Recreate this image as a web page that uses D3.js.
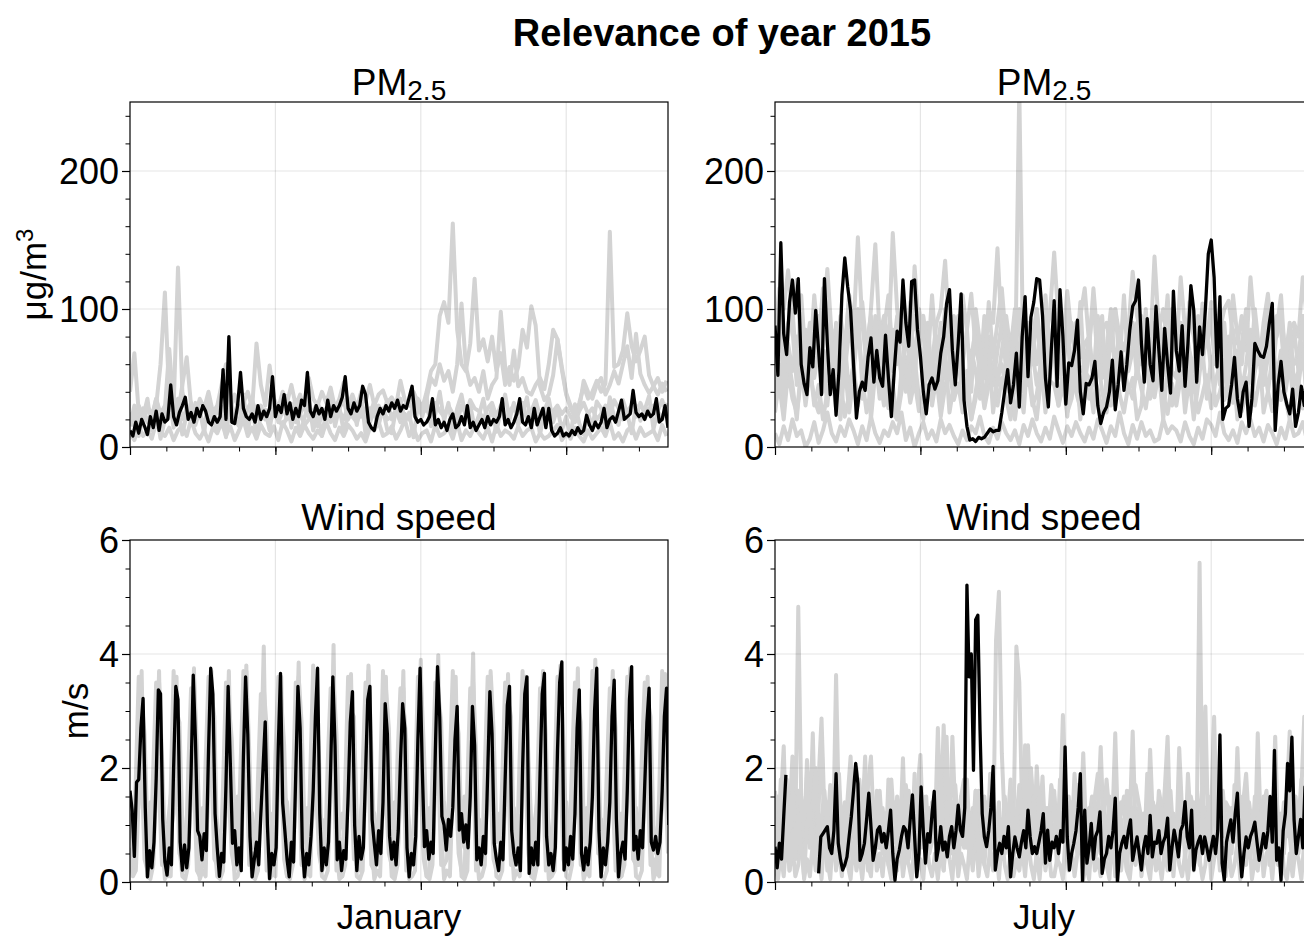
<!DOCTYPE html>
<html lang="en">
<head>
<meta charset="utf-8">
<title>Relevance of year 2015</title>
<script src="https://d3js.org/d3.v7.min.js"></script>
<style>
  body { margin: 0; background: #fff; }
  svg text { font-family: 'Liberation Sans', Arial, Helvetica, sans-serif; fill: #000; }
</style>
</head>
<body>
<script>
// Hourly axis: one month = 744 hours. Series are read off the picture
// and stored at a fixed sampling step (hours) given in the comment.

// PM2.5 January, year 2015 (black), every 4 h
const pmJanBlack = [
  12, 8, 18, 10, 20, 15,
  9, 22, 14, 26, 12, 24,
  18, 20, 45, 22, 16, 25,
  30, 36, 20, 25, 18, 28,
  22, 30, 26, 18, 16, 22,
  18, 22, 56, 20, 80, 18,
  17, 30, 54, 28, 22, 20,
  24, 18, 30, 20, 26, 22,
  28, 51, 22, 30, 25, 38,
  24, 32, 20, 28, 22, 34,
  30, 54, 26, 22, 30, 24,
  28, 20, 34, 22, 30, 26,
  30, 36, 51, 28, 24, 32,
  26, 30, 44, 38, 18, 14,
  12, 22, 28, 24, 30, 26,
  32, 28, 34, 26, 30, 28,
  36, 44, 22, 18, 20, 16,
  18, 22, 35, 16, 20, 14,
  18, 12, 20, 24, 14, 16,
  22, 16, 30, 14, 18, 12,
  16, 20, 14, 22, 16, 20,
  18, 22, 35, 16, 20, 14,
  18, 24, 35, 18, 16, 22,
  14, 28, 16, 22, 28, 14,
  28, 12, 8, 10, 14, 8,
  10, 8, 12, 9, 14, 10,
  12, 23, 16, 12, 18, 14,
  18, 28, 14, 20, 22, 18,
  26, 34, 20, 22, 24, 41,
  25, 22, 24, 20, 26, 22,
  24, 35, 18, 20, 30, 14
];
// PM2.5 January, other years (grey), every 6 h
const pmJanGray1 = [
  20,15,22,28, 18,25,30,60, 112,35,28,130, 40,25,20,30, 22,18,26,20,
  15,22,18,25, 20,15,24,18, 25,20,30,22, 18,24,20,15, 22,28,18,24,
  16,20,26,15, 22,28,18,24, 26,20,30,22, 18,26,22,28, 24,16,28,20,
  22,26,18,24, 20,30,35,28, 40,55,60,95, 105,90,162,85, 60,55,75,122,
  70,78,62,80, 55,68,45,58, 48,58,85,72, 102,88,44,34, 38,52,78,56,
  38,28,22,32, 44,35,40,48, 40,46,156,58, 60,70,97,73, 62,70,80,52,
  44,38,46,40
];
const pmJanGray2 = [
  40,68,25,18, 30,22,35,20, 28,71,30,24, 45,65,30,22, 35,28,40,25,
  30,45,60,28, 38,25,32,40, 28,75,45,30, 59,35,28,40, 32,45,30,38,
  28,50,35,30, 40,32,43,28, 35,47,30,38, 28,40,33,45, 30,38,41,32,
  36,30,48,34, 30,40,32,28, 35,50,45,60, 48,55,40,60, 104,58,45,50,
  40,55,35,45, 50,98,58,45, 70,44,50,40, 38,45,50,42, 60,85,78,58,
  39,30,22,28, 48,40,35,45, 50,38,45,55, 46,60,73,50, 82,53,45,39,
  44,50,40,48
];
const pmJanGray3 = [
  10,5,15,8, 12,6,18,10, 8,14,5,12, 15,8,20,10, 6,12,4,14,
  10,18,8,15, 5,12,20,8, 14,6,16,10, 8,15,5,18, 12,4,14,8,
  16,10,6,12, 8,18,10,5, 14,8,16,12, 6,10,4,14, 12,18,8,10,
  15,6,12,20, 8,14,5,10, 12,4,16,8, 10,14,6,18, 5,12,8,15,
  10,6,14,4, 16,8,12,10, 6,15,8,12, 14,4,10,6, 8,12,16,5,
  10,6,14,8, 4,12,6,10, 14,8,18,6, 10,4,12,15, 6,14,8,10,
  12,5,16,8
];
const pmJanGray4 = [
  25,18,30,22, 28,20,35,24, 30,22,26,35, 20,28,18,32, 24,30,22,18,
  28,20,34,26, 22,30,18,28, 34,24,28,20, 26,32,22,30, 20,28,34,24,
  30,22,26,32, 24,18,30,22, 28,34,20,26, 32,22,28,18, 26,30,24,34,
  20,28,22,30, 34,26,30,24, 28,20,32,26, 22,30,24,18, 30,24,34,28,
  26,20,28,32, 22,30,18,26, 30,24,32,20, 26,34,22,28, 20,26,30,24,
  28,22,18,26, 32,24,28,20, 24,30,22,34, 28,20,26,30, 22,32,24,28,
  30,26,34,22
];
const pmJanGray5 = [
  15,30,8,22, 35,12,25,6, 20,38,14,28, 9,24,32,16, 27,10,36,20,
  13,29,7,33, 24,16,38,11, 31,8,22,27, 12,35,18,26, 37,14,28,9,
  21,33,12,25, 8,26,36,15, 29,11,23,34, 16,38,9,24, 33,19,27,12,
  10,28,35,18, 25,7,30,22, 36,15,24,40, 19,32,12,28, 38,21,30,14,
  23,35,17,29, 11,27,38,20, 32,16,25,36, 14,30,9,26, 35,18,28,12,
  22,8,31,17, 9,25,14,33, 28,12,36,21, 16,34,24,10, 30,19,27,37,
  13,26,20,32
];

// PM2.5 July, year 2015 (black), every 4 h
const pmJulBlack = [
  88, 52, 148, 82, 67, 105,
  121, 97, 122, 60, 46, 38,
  72, 58, 99, 70, 38, 122,
  75, 38, 56, 23, 55, 110,
  137, 116, 99, 60, 21, 40,
  47, 41, 65, 79, 47, 70,
  50, 44, 81, 50, 22, 55,
  84, 76, 121, 90, 73, 120,
  121, 85, 66, 40, 24, 45,
  50, 42, 48, 68, 80, 104,
  114, 70, 45, 75, 111, 34,
  15, 5, 6, 4, 7, 6,
  7, 10, 13, 11, 12, 12,
  25, 41, 56, 32, 45, 68,
  29, 80, 109, 51, 94, 105,
  122, 121, 95, 50, 29, 70,
  106, 44, 114, 80, 31, 61,
  59, 70, 92, 40, 24, 46,
  45, 50, 62, 30, 17, 25,
  29, 40, 63, 27, 45, 69,
  41, 60, 85, 102, 106, 121,
  75, 47, 93, 60, 48, 102,
  70, 41, 86, 60, 39, 113,
  70, 55, 88, 44, 75, 117,
  99, 47, 87, 67, 100, 140,
  150, 123, 58, 109, 20, 28,
  30, 45, 65, 35, 22, 40,
  47, 15, 35, 75, 70, 66,
  65, 73, 90, 104, 12, 45,
  62, 40, 31, 24, 42, 15,
  25, 44, 30, 58, 45, 50
];
// PM2.5 July, other years (grey), every 6 h
const pmJulGray1 = [
  80,115,100,128, 95,121,70,85, 60,110,75,90, 129,80,60,95, 70,110,85,152,
  90,60,100,147, 80,95,70,155, 100,75,90,60, 131,85,95,70, 60,90,100,135,
  80,70,95,60, 85,111,70,60, 75,100,90,144, 80,95,70,100, 85,60,90,75,
  100,70,80,95, 141,90,75,113, 80,70,95,115, 75,106,60,85, 90,70,100,80,
  70,85,127,95, 80,95,70,138, 85,100,75,90, 70,123,85,95, 80,60,104,75,
  90,70,85,100, 106,80,75,95, 70,123,85,60, 90,111,75,80, 95,70,85,90,
  80,123,90,70
];
const pmJulGray2 = [
  40,60,35,75, 55,80,45,65, 90,50,70,40, 65,85,55,45, 75,40,60,90,
  50,70,45,80, 60,35,75,55, 85,50,65,40, 70,90,45,60, 55,75,40,85,
  65,45,80,50, 40,70,55,35, 60,80,45,70, 90,55,75,40, 65,85,50,70,
  45,60,90,55, 75,50,65,85, 40,70,55,60, 80,45,75,50, 65,90,55,70,
  45,60,85,50, 75,55,70,90, 60,80,45,65, 85,50,75,55, 40,70,60,85,
  55,75,45,65, 80,50,70,40, 60,85,55,75, 45,65,80,50, 70,40,60,85,
  55,75,50,65
];
const pmJulGray3 = [
  10,2,15,5, 20,8,12,0, 6,18,3,12, 25,10,4,15, 8,20,12,2,
  15,5,22,10, 3,12,8,18, 10,25,5,14, 0,10,18,6, 12,4,20,10,
  16,8,2,12, 5,15,10,22, 8,3,14,6, 18,10,5,12, 2,16,8,20,
  10,4,14,6, 22,12,3,15, 8,18,10,4, 14,6,20,12, 3,15,8,25,
  10,2,16,6, 18,8,12,4, 6,20,10,15, 12,4,18,8, 2,14,6,20,
  16,8,25,10, 5,12,3,18, 10,20,8,14, 4,16,10,2, 14,6,20,8,
  10,18,4,12
];
const pmJulGray4 = [
  30,45,20,55, 35,25,50,40, 60,30,45,20, 40,55,28,48, 22,38,60,30,
  50,25,42,65, 35,55,28,45, 20,40,58,32, 48,26,38,62, 30,50,22,44,
  56,34,46,25, 40,20,35,52, 28,45,60,30, 50,35,20,45, 260,40,55,30,
  38,60,25,48, 45,30,55,22, 60,40,28,50, 35,52,42,25, 48,30,62,38,
  25,45,35,58, 42,28,50,36, 55,38,24,46, 30,50,40,62, 45,25,38,52,
  28,48,60,34, 50,32,44,26, 38,56,30,48, 62,40,26,52, 34,46,58,30,
  48,28,40,55
];
const pmJulGray5 = [
  60,95,45,80, 100,55,75,40, 85,65,95,50, 70,40,90,60, 55,85,70,100,
  45,75,95,60, 90,50,65,85, 60,100,45,75, 95,70,55,90, 50,80,65,100,
  75,45,90,60, 40,65,85,50, 95,60,75,45, 70,90,55,80, 100,65,45,85,
  60,80,95,50, 85,55,70,100, 45,90,65,75, 80,50,95,60, 70,100,55,85,
  50,75,90,65, 95,60,80,45, 65,85,55,100, 75,45,90,70, 55,95,65,80,
  90,60,100,50, 70,85,45,75, 100,55,80,65, 60,90,70,95, 85,50,75,60,
  65,95,55,80
];
const pmJulGray6 = [
  25,50,35,65, 45,20,60,30, 55,35,25,70, 30,65,45,20, 60,25,50,40,
  35,70,20,55, 50,30,65,25, 20,55,40,60, 65,35,20,45, 40,60,30,70,
  25,45,65,35, 55,20,40,60, 30,70,25,50, 60,40,55,20, 45,25,70,35,
  20,50,35,65, 70,30,45,25, 35,60,20,55, 50,25,65,40, 25,55,30,70,
  60,40,50,20, 30,70,35,45, 55,20,60,30, 40,65,25,50, 20,45,70,35,
  65,30,40,55, 35,60,20,45, 50,25,55,70, 25,40,65,30, 60,35,20,50,
  45,70,30,60
];
const pmJulGray7 = [
  70,105,50,90, 85,45,110,65, 50,95,75,115, 100,60,80,45, 65,110,55,85,
  105,70,40,95, 55,85,110,65, 95,50,75,105, 45,100,80,60, 110,65,90,50,
  60,95,70,110, 85,40,100,75, 50,105,65,90, 115,75,45,95, 55,90,80,60,
  100,50,110,70, 65,95,55,85, 90,60,105,45, 70,115,75,95, 40,85,100,60,
  110,55,70,90, 60,100,45,80, 95,70,110,55, 50,90,65,105, 85,45,95,75,
  105,65,55,90, 45,110,80,60, 95,55,100,70, 75,105,50,85, 110,60,90,45,
  55,95,70,100
];

// Wind speed January, year 2015 (black), every 3 h
const windJanBlack = [
  1.6, 1.25, 0.45, 1.75, 1.8, 2.7, 3.22, 1.3,
  0.09, 0.55, 0.25, 0.7, 1.8, 3.37, 3.3, 1.1,
  0.35, 0.12, 0.6, 0.3, 2.0, 3.43, 3.2, 0.7,
  0.21, 0.65, 0.25, 0.6, 1.9, 3.63, 2.5, 0.9,
  0.8, 0.39, 0.85, 0.55, 2.3, 3.75, 3.3, 1.2,
  0.6, 0.1, 0.5, 0.35, 1.7, 3.43, 2.08, 0.68,
  0.9, 0.3, 0.6, 0.2, 2.2, 3.6, 2.6, 0.8,
  0.09, 0.4, 0.7, 0.3, 1.2, 2.0, 2.81, 1.0,
  0.06, 0.5, 0.3, 0.6, 2.4, 3.66, 1.38, 0.9,
  0.4, 0.09, 0.7, 0.35, 1.9, 3.43, 2.7, 0.6,
  0.09, 0.5, 0.3, 0.8, 1.6, 2.9, 3.75, 1.2,
  0.2, 0.6, 0.3, 0.7, 2.0, 3.6, 2.4, 0.39,
  0.7, 0.2, 0.55, 0.4, 1.5, 2.8, 3.34, 1.0,
  0.2, 0.8, 0.4, 0.6, 1.9, 3.2, 3.43, 1.1,
  0.68, 0.3, 0.9, 0.5, 1.4, 3.13, 2.6, 0.8,
  0.4, 0.7, 0.3, 0.9, 2.1, 3.13, 2.7, 0.6,
  0.09, 0.5, 0.3, 0.8, 2.5, 3.75, 2.0, 0.62,
  0.9, 0.4, 0.7, 0.5, 2.3, 3.78, 2.9, 1.15,
  1.0, 0.56, 1.1, 0.8, 1.3, 2.5, 3.08, 0.91,
  1.2, 0.7, 1.0, 0.6, 1.5, 3.08, 2.4, 0.39,
  0.6, 0.3, 0.8, 0.5, 1.9, 3.34, 2.6, 0.68,
  0.4, 0.2, 0.7, 0.39, 1.8, 3.1, 3.43, 0.9,
  0.5, 0.3, 0.6, 0.2, 2.0, 3.3, 3.6, 0.15,
  0.6, 0.3, 0.7, 0.3, 1.9, 3.3, 3.66, 0.8,
  0.3, 0.5, 0.2, 0.6, 2.3, 3.5, 3.86, 0.21,
  0.6, 0.3, 0.8, 0.4, 1.2, 2.7, 3.37, 0.5,
  0.21, 0.6, 0.3, 0.7, 1.5, 3.0, 3.75, 0.9,
  0.09, 0.6, 0.3, 0.7, 1.4, 2.9, 3.54, 1.1,
  0.09, 0.5, 0.7, 0.4, 1.6, 3.2, 3.78, 0.56,
  0.8, 0.4, 0.9, 0.6, 1.7, 2.8, 3.4, 0.7,
  0.56, 0.8, 0.5, 0.7, 1.6, 2.9, 3.4, 1.0
];
// Wind speed January, other years (grey), every 4 h
const windJanGray1 = [
  0.4,0.1,0.2,1.5,3.7,1.0, 0.1,0.05,0.3,1.8,3.7,0.8, 0.05,0.2,0.1,2.0,3.6,0.6,
  0.1,0.05,0.3,1.7,3.75,0.9, 0.05,0.2,0.1,2.1,3.7,0.7, 0.1,0.05,0.2,1.9,3.7,1.0,
  0.05,0.1,0.3,1.6,3.8,0.8, 0.1,0.05,0.2,2.0,4.13,0.9, 0.05,0.15,0.1,1.8,3.6,0.7,
  0.1,0.05,0.3,1.9,3.85,1.0, 0.05,0.2,0.1,2.2,3.7,0.8, 0.1,0.05,0.2,1.7,4.16,0.6,
  0.05,0.1,0.3,1.9,3.65,0.9, 0.1,0.05,0.2,2.0,3.7,0.7, 0.05,0.2,0.1,1.8,3.6,1.0,
  0.1,0.05,0.3,1.9,3.7,0.8, 0.05,0.1,0.2,2.1,3.9,0.6, 0.1,0.05,0.3,1.8,3.98,0.9,
  0.05,0.2,0.1,1.7,3.6,1.0, 0.1,0.05,0.2,2.0,4.01,0.7, 0.05,0.1,0.3,1.9,3.6,0.8,
  0.1,0.05,0.2,1.7,3.65,0.9, 0.05,0.2,0.1,2.0,3.6,0.6, 0.1,0.05,0.3,1.8,3.7,1.0,
  0.05,0.1,0.2,2.1,3.7,0.8, 0.1,0.05,0.3,1.9,3.75,0.7, 0.05,0.2,0.1,1.8,3.9,0.9,
  0.1,0.05,0.2,2.0,3.7,0.6, 0.05,0.1,0.3,1.9,3.75,1.0, 0.1,0.05,0.2,1.7,3.6,0.8,
  0.05,0.2,0.1,2.0,3.65,0.9
];
const windJanGray2 = [
  1.2,0.6,0.9,2.2,3.0,1.5, 0.8,1.4,0.5,2.5,3.2,1.2, 0.6,1.0,1.5,2.0,2.8,1.6,
  1.1,0.5,0.8,2.4,3.3,1.0, 0.7,1.3,0.6,2.1,2.9,1.4, 1.0,0.5,1.2,2.3,3.1,1.1,
  0.6,1.5,0.8,2.0,3.4,1.3, 1.2,0.7,1.0,2.6,3.0,1.0, 0.8,1.2,0.5,2.2,3.2,1.5,
  1.4,0.6,0.9,2.0,2.8,1.2, 0.7,1.3,0.6,2.4,3.3,1.0, 1.1,0.5,1.4,2.1,3.0,1.6,
  0.9,1.2,0.7,2.5,3.2,1.1, 0.6,1.0,1.5,2.2,2.9,1.3, 1.2,0.7,0.9,2.0,3.1,1.0,
  0.8,1.4,0.6,2.3,3.4,1.5, 1.0,0.5,1.1,2.6,3.0,1.2, 0.7,1.3,0.8,2.1,3.2,1.4,
  1.4,0.9,1.2,2.4,2.8,1.1, 0.9,1.5,0.7,2.2,3.3,1.0, 1.1,0.6,1.0,2.0,3.0,1.6,
  0.7,1.2,0.5,2.5,3.2,1.2, 1.3,0.8,1.1,2.3,2.9,1.0, 0.6,1.0,1.4,2.1,3.4,1.5,
  1.0,0.5,0.9,2.6,3.1,1.1, 1.4,0.8,1.2,2.2,3.0,1.3, 0.8,1.3,0.6,2.4,3.3,1.0,
  1.1,0.6,1.0,2.0,2.9,1.4, 0.7,1.2,0.8,2.5,3.2,1.2, 1.3,0.9,1.4,2.2,3.0,1.5,
  0.9,0.5,1.1,2.3,3.3,1.1
];
const windJanGray3 = [
  0.5,0.2,1.8,3.6,2.0,0.4, 0.2,0.4,2.0,3.5,1.6,0.3, 0.3,0.1,1.6,3.7,2.2,0.5,
  0.4,0.2,1.9,3.4,1.8,0.2, 0.1,0.3,2.1,3.6,2.0,0.4, 0.3,0.15,1.7,3.5,1.5,0.5,
  0.2,0.4,2.0,3.7,2.1,0.3, 0.5,0.1,1.8,3.3,1.7,0.2, 0.3,0.2,2.2,3.6,1.9,0.4,
  0.1,0.4,1.6,3.5,2.0,0.3, 0.4,0.2,1.9,3.8,1.6,0.5, 0.2,0.3,2.1,3.4,2.2,0.2,
  0.3,0.1,1.7,3.6,1.8,0.4, 0.5,0.2,2.0,3.5,2.0,0.3, 0.2,0.4,1.8,3.7,1.5,0.5,
  0.3,0.1,2.2,3.4,2.1,0.2, 0.4,0.3,1.6,3.6,1.7,0.4, 0.1,0.2,1.9,3.5,2.0,0.3,
  0.3,0.4,2.1,3.7,1.8,0.5, 0.2,0.1,1.7,3.4,2.2,0.2, 0.5,0.3,2.0,3.6,1.6,0.4,
  0.2,0.2,1.8,3.5,2.0,0.3, 0.3,0.4,2.2,3.7,1.9,0.5, 0.1,0.2,1.6,3.4,1.7,0.2,
  0.4,0.1,1.9,3.6,2.1,0.4, 0.2,0.3,2.1,3.5,1.8,0.3, 0.3,0.2,1.7,3.7,2.0,0.5,
  0.5,0.4,2.0,3.4,1.5,0.2, 0.2,0.1,1.8,3.6,2.2,0.4, 0.3,0.3,2.2,3.5,1.7,0.3,
  0.4,0.2,1.6,3.7,2.0,0.5
];
const windJanGray4 = [
  0.6,0.3,0.8,1.4,3.2,2.6, 0.9,0.4,0.6,1.6,3.5,2.2, 0.7,0.5,0.9,1.2,3.0,2.8,
  1.0,0.3,0.7,1.5,3.6,2.4, 0.8,0.6,0.4,1.7,3.3,2.9, 0.5,0.9,0.6,1.3,3.1,2.5,
  1.1,0.4,0.8,1.6,3.7,2.3, 0.6,0.7,0.5,1.4,3.4,2.7, 0.9,0.3,0.9,1.8,3.2,2.4,
  0.7,0.6,0.4,1.5,3.6,2.8, 1.0,0.5,0.7,1.3,3.3,2.2, 0.6,0.8,0.5,1.6,3.5,2.6,
  0.8,0.4,0.9,1.4,3.0,2.9, 1.1,0.6,0.6,1.7,3.8,2.3, 0.7,0.3,0.8,1.2,3.4,2.7,
  0.9,0.7,0.4,1.6,3.1,2.5, 0.5,0.5,0.9,1.5,3.6,2.4, 1.0,0.8,0.6,1.8,3.3,2.8,
  1.2,0.9,1.0,1.6,3.0,2.6, 0.8,0.6,0.7,1.4,3.5,2.3, 0.6,0.4,0.8,1.5,3.7,2.7,
  0.9,0.7,0.5,1.3,3.2,2.9, 0.7,0.3,0.9,1.7,3.6,2.2, 1.0,0.6,0.6,1.4,3.4,2.6,
  0.5,0.8,0.4,1.6,3.8,2.5, 0.8,0.5,0.9,1.2,3.1,2.8, 1.1,0.4,0.7,1.5,3.5,2.4,
  0.6,0.7,0.5,1.8,3.3,2.7, 0.9,0.3,0.8,1.4,3.6,2.3, 0.7,0.6,0.6,1.6,3.2,2.9,
  1.0,0.5,0.9,1.3,3.4,2.5
];

// Wind speed July, year 2015 (black), every 3 h; null = missing
const windJulBlack = [
  0.62, 0.25, 0.68, 0.4, 1.15, 1.88, null, null,
  null, null, null, null, null, null, null, null,
  null, null, null, null, 0.15, 0.79, 0.85, 0.91,
  0.97, 0.6, 0.5, 0.9, 1.9, 0.68, 0.4, 0.21,
  0.3, 0.44, 0.8, 1.15, 1.6, 2.08, 1.73, 0.38,
  0.5, 0.68, 1.1, 1.56, 0.97, 0.38, 0.6, 0.91,
  0.97, 0.7, 0.85, 0.6, 0.9, 1.26, 0.5, 0.03,
  0.4, 0.56, 0.8, 0.97, 0.91, 0.6, 1.1, 1.53,
  0.8, 0.09, 0.5, 1.67, 0.9, 0.33, 0.85, 0.7,
  1.2, 1.59, 0.38, 0.6, 0.97, 0.56, 0.7, 0.44,
  0.8, 0.97, 0.6, 0.9, 1.35, 0.91, 0.8, 1.3,
  5.21, 3.6, 4.0, 1.96, 4.6, 4.68, 2.67, 1.2,
  0.79, 0.62, 0.9, 1.3, 2.03, 0.21, 0.5, 0.68,
  0.5, 0.8, 0.6, 0.97, 0.09, 0.5, 0.79, 0.6,
  0.44, 0.7, 0.9, 0.6, 1.26, 0.79, 0.5, 0.62,
  0.5, 0.7, 0.9, 1.2, 0.33, 0.91, 0.38, 0.7,
  0.6, 0.8, 0.5, 0.9, 0.7, 2.37, 0.79, 0.21,
  0.5, 0.68, 0.9, 1.3, 1.9, 0.0, 1.26, 0.33,
  0.6, 1.03, 0.4, 0.8, 0.9, 1.23, 0.15, 0.4,
  0.5, 0.8, 0.6, 0.9, 1.47, 0.0, 0.5, 0.68,
  0.8, 0.6, 0.9, 1.09, 0.38, 0.6, 0.79, 0.5,
  0.21, 0.6, 0.8, 0.5, 1.17, 0.44, 0.7, 0.68,
  0.9, 0.5, 0.7, 0.8, 1.12, 0.21, 0.6, 0.91,
  0.7, 0.44, 0.9, 1.0, 1.41, 0.79, 0.6, 1.26,
  0.21, 0.56, 0.7, 0.8, 0.5, 0.79, 0.6, 0.38,
  0.6, 0.8, 0.5, 0.9, 2.58, 0.33, 0.03, 0.7,
  0.9, 1.09, 0.7, 1.2, 1.56, 0.62, 0.09, 0.5,
  0.79, 0.6, 0.8, 0.9, 1.05, 0.7, 0.38, 0.6,
  0.85, 0.6, 0.9, 1.5, 0.7, 2.31, 0.38, 0.6,
  0.03, 0.9, 1.2, 2.08, 1.6, 2.54, 1.09, 0.5,
  0.8, 1.1, 0.6, 1.67, 1.0, 0.6, 1.2, 0.8
];
// Wind speed July, other years (grey), every 4 h
const windJulGray1 = [
  1.6,0.8,1.4,2.38,0.5,1.2, 2.2,0.9,4.83,1.5,0.7,2.14, 1.0,2.61,0.6,1.8,2.87,1.2,
  0.5,1.4,0.8,3.63,1.1,0.4, 1.3,0.6,1.7,0.9,2.0,0.7, 1.1,2.2,0.5,1.4,0.8,1.6,
  0.6,1.2,0.4,1.8,1.0,0.7, 1.5,0.8,2.17,0.6,1.3,0.9, 0.7,1.6,2.23,0.8,1.2,0.5,
  1.4,0.9,2.7,1.1,2.75,1.0, 0.8,2.55,1.2,0.6,1.5,0.9, 1.8,0.7,1.3,0.9,1.6,1.1,
  0.8,1.4,1.2,0.6,4.24,5.09, 2.26,1.0,0.7,1.5,0.9,4.13, 3.51,1.2,0.8,2.4,1.0,0.6,
  2.03,1.1,1.85,0.7,1.3,0.9, 1.6,0.8,1.2,2.93,0.9,0.5, 1.3,0.7,1.7,1.0,2.26,0.8,
  1.1,1.5,0.6,1.2,2.37,0.9, 0.7,1.4,1.0,2.61,0.8,1.2, 1.5,0.6,1.1,2.64,0.9,1.3,
  0.8,1.2,0.7,2.32,1.0,0.6, 1.4,0.9,1.6,2.55,0.8,1.1, 0.7,2.35,1.2,0.9,1.5,0.8,
  1.3,0.9,5.6,1.0,3.08,0.7, 1.2,2.9,0.8,1.4,0.9,1.1, 0.6,1.3,0.9,2.35,1.0,0.7,
  1.5,0.8,1.2,0.6,2.61,1.0, 0.9,1.4,0.7,1.1,2.55,0.8, 1.2,0.6,1.5,2.64,0.9,1.3,
  0.8,1.6,2.9,1.1,0.7,1.5
];
const windJulGray2 = [
  0.8,1.5,0.4,1.1,1.8,0.6, 1.2,0.5,1.6,0.9,1.4,0.7, 1.9,1.0,0.5,1.3,2.55,0.8,
  1.4,0.6,1.1,1.8,0.5,1.2, 0.7,1.5,2.2,0.8,1.3,0.6, 1.1,0.5,1.7,2.2,0.9,1.4,
  0.6,1.3,0.8,1.2,1.61,0.7, 1.4,0.7,1.1,0.5,1.6,0.9, 0.8,1.2,0.6,1.5,1.0,0.5,
  1.3,0.9,1.6,0.7,1.2,2.55, 0.9,1.4,0.6,1.1,0.8,1.5, 0.7,1.2,0.9,1.6,0.5,1.0,
  1.4,0.8,1.3,0.6,1.1,0.9, 0.6,1.5,1.0,0.8,1.3,0.7, 1.2,0.7,2.4,1.0,1.9,0.8,
  0.9,1.4,0.6,1.3,0.8,1.1, 1.5,0.8,1.2,0.7,1.4,0.9, 0.7,1.3,0.9,1.6,0.6,1.2,
  1.1,0.6,1.4,0.9,1.2,0.8, 0.8,1.5,0.7,1.3,1.0,1.4, 1.3,0.9,1.6,0.7,1.1,0.6,
  0.9,1.2,0.8,1.5,0.7,1.3, 1.4,0.7,1.1,0.9,1.6,0.8, 0.6,1.3,0.9,1.2,0.7,1.5,
  1.2,0.8,1.4,0.6,1.3,0.9, 0.9,1.5,0.7,1.1,0.8,1.4, 1.3,0.6,1.2,0.9,1.5,0.7,
  0.8,1.4,1.0,1.3,0.6,1.1, 1.5,0.9,1.3,0.7,1.2,0.8, 0.7,1.2,0.8,1.6,1.0,1.3,
  1.1,0.7,1.4,0.9,1.5,0.8
];
const windJulGray3 = [
  0.3,0.05,0.5,0.1,0.8,0.2, 0.6,0.1,0.3,0.9,0.05,0.4, 0.1,0.7,0.2,0.5,0.05,0.8,
  0.4,0.05,0.9,0.2,0.6,0.1, 0.8,0.3,0.05,0.7,0.2,0.5, 0.05,0.6,0.3,0.1,0.9,0.2,
  0.5,0.1,0.7,0.3,0.05,0.6, 0.2,0.8,0.1,0.5,0.3,0.05, 0.7,0.2,0.4,0.05,0.8,0.3,
  0.1,0.5,0.05,0.6,0.2,0.9, 0.4,0.05,0.8,0.1,0.5,0.3, 0.05,0.7,0.2,0.9,0.1,0.6,
  0.3,0.1,0.6,0.2,0.7,0.05, 0.8,0.3,0.05,0.5,0.1,0.4, 0.2,0.6,0.1,0.8,0.3,0.05,
  0.5,0.05,0.7,0.2,0.6,0.1, 0.1,0.4,0.3,0.05,0.9,0.2, 0.6,0.1,0.5,0.7,0.05,0.3,
  0.05,0.8,0.2,0.4,0.1,0.6, 0.3,0.05,0.9,0.1,0.5,0.2, 0.7,0.2,0.05,0.6,0.3,0.8,
  0.1,0.5,0.3,0.05,0.7,0.2, 0.4,0.05,0.6,0.2,0.9,0.1, 0.8,0.3,0.1,0.5,0.05,0.6,
  0.2,0.7,0.4,0.05,0.3,0.9, 0.05,0.4,0.8,0.2,0.6,0.1, 0.6,0.1,0.3,0.7,0.05,0.5,
  0.3,0.9,0.05,0.4,0.2,0.8, 0.1,0.5,0.6,0.05,0.7,0.3, 0.9,0.2,0.05,0.5,0.1,0.6,
  0.4,0.05,0.7,0.3,0.8,0.2
];
const windJulGray4 = [
  1.2,0.6,1.8,0.9,1.4,0.5, 1.7,1.0,0.4,1.5,0.8,1.9, 0.6,1.3,2.0,0.7,1.1,1.6,
  0.9,1.7,0.5,1.2,1.9,0.8, 1.4,0.6,1.6,1.0,0.4,1.8, 1.1,1.9,0.7,1.3,0.5,1.5,
  1.6,0.8,1.2,0.4,1.8,1.0, 0.5,1.4,0.9,1.7,1.2,0.6, 1.9,0.7,1.5,1.1,0.4,1.3,
  0.8,1.6,1.0,1.9,0.6,1.4, 1.2,0.5,1.7,0.9,1.5,1.8, 0.6,1.1,0.4,1.6,1.3,0.9,
  1.5,0.7,1.9,1.2,0.8,1.4, 0.4,1.3,1.0,1.8,0.6,1.1, 1.7,0.9,1.4,0.5,2.0,1.2,
  1.0,1.6,0.6,1.3,0.9,1.7, 1.4,0.5,1.8,1.1,0.7,1.5, 0.8,1.9,1.2,0.6,1.6,1.0,
  1.3,0.7,1.5,1.9,0.5,1.1, 1.8,1.2,0.6,1.4,1.0,0.8, 0.5,1.6,1.3,0.9,1.7,1.4,
  1.1,0.6,1.9,1.0,1.4,0.7, 1.6,1.3,0.8,1.8,0.5,1.2, 0.9,1.5,1.1,0.6,1.9,1.0,
  1.4,0.8,1.2,1.7,0.6,1.5, 0.7,1.8,1.0,1.3,1.6,0.9, 1.2,0.5,1.7,1.1,0.8,1.4,
  1.9,1.0,0.6,1.5,1.2,0.8, 1.3,1.6,0.9,0.5,1.8,1.1, 0.8,1.4,1.2,1.7,0.6,1.5,
  1.0,1.8,0.7,1.3,1.6,1.1
];
const windJulGray5 = [
  0.5,1.1,0.3,0.8,1.4,0.2, 0.9,0.4,1.2,0.6,0.1,1.0, 1.3,0.7,0.3,1.1,0.5,0.9,
  0.2,0.8,1.4,0.4,1.0,0.6, 1.2,0.3,0.7,1.5,0.5,0.9, 0.4,1.1,0.2,0.8,1.3,0.6,
  1.0,0.5,1.2,0.3,0.7,1.4, 0.6,0.9,0.2,1.1,0.4,0.8, 1.3,0.3,1.0,0.6,1.5,0.5,
  0.7,1.2,0.4,0.9,0.2,1.1, 0.5,1.4,0.8,0.3,1.0,0.6, 1.2,0.4,0.9,1.3,0.5,0.8,
  0.3,1.0,0.6,1.4,0.8,0.2, 1.1,0.5,1.3,0.7,0.4,0.9, 0.6,1.2,0.3,1.0,0.8,1.5,
  0.4,0.9,1.1,0.5,1.3,0.7, 1.0,0.3,0.8,1.2,0.6,0.4, 1.4,0.7,0.5,0.9,1.1,0.2,
  0.8,1.3,0.4,0.6,1.0,1.2, 0.3,0.9,1.4,0.5,0.7,1.1, 0.6,0.2,1.0,1.3,0.4,0.8,
  1.2,0.5,0.9,0.3,1.1,0.7, 0.4,1.3,0.6,1.0,0.8,0.2, 1.1,0.6,1.4,0.4,0.9,0.5,
  0.7,1.0,0.3,1.2,0.5,1.3, 0.9,0.4,1.1,0.6,1.4,0.8, 0.3,1.2,0.7,0.9,0.2,1.0,
  1.3,0.6,0.8,0.4,1.1,0.5, 0.6,1.4,0.3,1.0,0.7,1.2, 1.0,0.5,1.2,0.8,0.3,0.9,
  0.5,1.1,0.7,1.3,0.4,0.9
];

// axis ticks and labels
const xMajorTicks = [0, 200, 400, 600];
const pmTicks = [0, 100, 200];
const windTicks = [0, 2, 4, 6];
const monthLabels = ["January", "July"];

// ---------------------------------------------------------------
var w = 1304, h = 937;
var svg = d3.select("body").append("svg").attr("width", w).attr("height", h);

var cols = [
  { x0: 130, x1: 668, label: monthLabels[0] },
  { x0: 775, x1: 1313, label: monthLabels[1] }
];
var rows = [
  { y0: 102, y1: 447, max: 250, ticks: pmTicks, minor: d3.range(0, 250, 20), title: "pm", ylabel: "ug" },
  { y0: 540, y1: 882, max: 6, ticks: windTicks, minor: d3.range(0, 6.01, 0.5), title: "Wind speed", ylabel: "m/s" }
];

var panels = [
  { c: 0, r: 0, black: [pmJanBlack, 4],
    grays: [[pmJanGray1, 6], [pmJanGray2, 6], [pmJanGray3, 6], [pmJanGray4, 6], [pmJanGray5, 6]] },
  { c: 1, r: 0, black: [pmJulBlack, 4],
    grays: [[pmJulGray1, 6], [pmJulGray2, 6], [pmJulGray3, 6], [pmJulGray4, 6], [pmJulGray5, 6],
            [pmJulGray6, 6], [pmJulGray7, 6]] },
  { c: 0, r: 1, black: [windJanBlack, 3],
    grays: [[windJanGray1, 4], [windJanGray2, 4], [windJanGray3, 4], [windJanGray4, 4]] },
  { c: 1, r: 1, black: [windJulBlack, 3],
    grays: [[windJulGray1, 4], [windJulGray2, 4], [windJulGray3, 4], [windJulGray4, 4], [windJulGray5, 4]] }
];

// figure title
svg.append("text")
  .attr("x", 722).attr("y", 46)
  .attr("text-anchor", "middle")
  .attr("font-size", "38px").attr("font-weight", "bold")
  .text("Relevance of year 2015");

panels.forEach(function(p, k) {
  var col = cols[p.c], row = rows[p.r];
  var xScale = d3.scaleLinear().domain([0, 740]).range([col.x0, col.x1]);
  var yScale = d3.scaleLinear().domain([0, row.max]).range([row.y1, row.y0]);

  var clipId = "clip" + k;
  svg.append("clipPath").attr("id", clipId)
    .append("rect")
    .attr("x", col.x0).attr("y", row.y0)
    .attr("width", col.x1 - col.x0).attr("height", row.y1 - row.y0);

  var line = d3.line()
    .defined(function(d) { return d.v !== null; })
    .x(function(d) { return xScale(d.h); })
    .y(function(d) { return yScale(d.v); });

  function toPoints(s) {
    return s[0].map(function(v, i) { return { h: i * s[1], v: v }; });
  }

  var g = svg.append("g").attr("clip-path", "url(#" + clipId + ")");

  p.grays.forEach(function(s) {
    g.append("path")
      .attr("d", line(toPoints(s)))
      .attr("fill", "none")
      .attr("stroke", "#d3d3d3")
      .attr("stroke-width", 4)
      .attr("stroke-linejoin", "round");
  });

  g.append("path")
    .attr("d", line(toPoints(p.black)))
    .attr("fill", "none")
    .attr("stroke", "#000")
    .attr("stroke-width", 3.3)
    .attr("stroke-linejoin", "round");

  // grid
  var grid = svg.append("g").attr("stroke", "rgba(0,0,0,0.1)").attr("stroke-width", 1.2);
  xMajorTicks.slice(1).forEach(function(t) {
    grid.append("line")
      .attr("x1", xScale(t)).attr("x2", xScale(t))
      .attr("y1", row.y0).attr("y2", row.y1);
  });
  row.ticks.slice(1, -1).concat(row.max === 250 ? [200] : []).forEach(function(t) {
    grid.append("line")
      .attr("x1", col.x0).attr("x2", col.x1)
      .attr("y1", yScale(t)).attr("y2", yScale(t));
  });

  // minor ticks
  svg.append("g")
    .attr("transform", "translate(" + col.x0 + ",0)")
    .call(d3.axisLeft(yScale).tickValues(row.minor).tickSize(4.5).tickFormat(""))
    .call(function(a) { a.select(".domain").remove(); a.selectAll("line").attr("stroke-width", 1); });
  svg.append("g")
    .attr("transform", "translate(0," + row.y1 + ")")
    .call(d3.axisBottom(xScale).tickValues(d3.range(0, 741, 50)).tickSize(4.5).tickFormat(""))
    .call(function(a) { a.select(".domain").remove(); a.selectAll("line").attr("stroke-width", 1); });

  // major ticks
  var yAxis = svg.append("g")
    .attr("transform", "translate(" + col.x0 + ",0)")
    .call(d3.axisLeft(yScale).tickValues(row.ticks).tickSize(8).tickPadding(3).tickFormat(d3.format("d")));
  yAxis.select(".domain").remove();
  yAxis.selectAll("line").attr("stroke-width", 1.2);
  yAxis.selectAll("text")
    .attr("font-size", "36px")
    .attr("font-family", "'Liberation Sans', Arial, sans-serif")
    .attr("dy", "0.36em");

  var xAxis = svg.append("g")
    .attr("transform", "translate(0," + row.y1 + ")")
    .call(d3.axisBottom(xScale).tickValues(xMajorTicks).tickSize(8).tickFormat(""));
  xAxis.select(".domain").remove();
  xAxis.selectAll("line").attr("stroke-width", 1.2);

  // frame
  svg.append("rect")
    .attr("x", col.x0).attr("y", row.y0)
    .attr("width", col.x1 - col.x0).attr("height", row.y1 - row.y0)
    .attr("fill", "none").attr("stroke", "#000").attr("stroke-width", 1.2);

  // panel title
  var cx = (col.x0 + col.x1) / 2;
  var t = svg.append("text")
    .attr("x", cx)
    .attr("text-anchor", "middle")
    .attr("font-size", "37px");
  if (row.title === "pm") {
    t.attr("y", row.y0 - 7);
    t.append("tspan").text("PM");
    t.append("tspan").attr("font-size", "28px").attr("dy", 5).text("2.5");
  } else {
    t.attr("y", row.y0 - 10).text(row.title);
  }

  // x label under bottom row
  if (p.r === 1) {
    svg.append("text")
      .attr("x", cx).attr("y", 929)
      .attr("text-anchor", "middle")
      .attr("font-size", "35px")
      .text(col.label);
  }

  // y label on left column
  if (p.c === 0) {
    var ly = (row.y0 + row.y1) / 2;
    var lx = p.r === 0 ? 46 : 88;
    var yl = svg.append("text")
      .attr("transform", "translate(" + lx + "," + ly + ") rotate(-90)")
      .attr("text-anchor", "middle")
      .attr("font-size", "35px");
    if (row.ylabel === "ug") {
      yl.append("tspan").text("\u03bcg/m");
      yl.append("tspan").attr("font-size", "24px").attr("dy", -13).text("3");
    } else {
      yl.text(row.ylabel);
    }
  }
});
</script>
</body>
</html>
